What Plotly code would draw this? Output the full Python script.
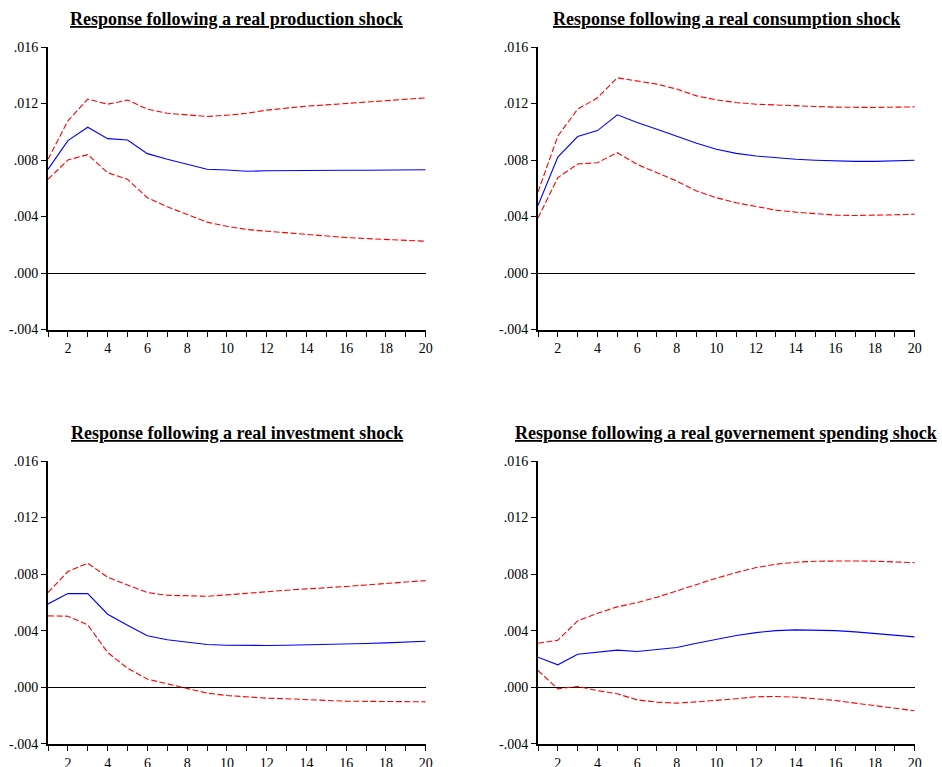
import plotly.graph_objects as go

periods = list(range(1, 21))

titles = [
    "Response following a real production shock",
    "Response following a real consumption shock",
    "Response following a real investment shock",
    "Response following a real governement spending shock",
]

prod_mid = [0.00734, 0.00937, 0.01032, 0.00951, 0.00942, 0.00845, 0.00805, 0.00769, 0.00734, 0.00729,
            0.00720, 0.00724, 0.00726, 0.00727, 0.00727, 0.00727, 0.00727, 0.00728, 0.00729, 0.00731]
prod_up = [0.00805, 0.01077, 0.01231, 0.01195, 0.01224, 0.01160, 0.01131, 0.01117, 0.01108, 0.01117,
           0.01131, 0.01153, 0.01169, 0.01181, 0.01190, 0.01200, 0.01210, 0.01219, 0.01231, 0.01240]
prod_lo = [0.00663, 0.00800, 0.00838, 0.00710, 0.00663, 0.00533, 0.00469, 0.00414, 0.00360, 0.00331,
           0.00308, 0.00296, 0.00284, 0.00272, 0.00260, 0.00251, 0.00244, 0.00237, 0.00232, 0.00225]

cons_mid = [0.00478, 0.00821, 0.00966, 0.01008, 0.01120, 0.01065, 0.01018, 0.00970, 0.00918, 0.00876,
            0.00847, 0.00828, 0.00814, 0.00805, 0.00798, 0.00793, 0.00790, 0.00790, 0.00793, 0.00798]
cons_up = [0.00573, 0.00970, 0.01160, 0.01240, 0.01382, 0.01361, 0.01337, 0.01302, 0.01254, 0.01226,
           0.01207, 0.01195, 0.01188, 0.01183, 0.01179, 0.01174, 0.01172, 0.01172, 0.01174, 0.01176]
cons_lo = [0.00390, 0.00675, 0.00772, 0.00781, 0.00852, 0.00769, 0.00710, 0.00651, 0.00580, 0.00533,
           0.00497, 0.00469, 0.00445, 0.00431, 0.00419, 0.00410, 0.00407, 0.00407, 0.00412, 0.00417]

inv_mid = [0.00589, 0.00662, 0.00662, 0.00516, 0.00438, 0.00363, 0.00335, 0.00316, 0.00302, 0.00297,
           0.00295, 0.00295, 0.00297, 0.00299, 0.00302, 0.00304, 0.00309, 0.00313, 0.00318, 0.00325]
inv_up = [0.00669, 0.00818, 0.00877, 0.00778, 0.00723, 0.00669, 0.00650, 0.00646, 0.00643, 0.00653,
          0.00665, 0.00674, 0.00686, 0.00695, 0.00702, 0.00712, 0.00723, 0.00733, 0.00745, 0.00754]
inv_lo = [0.00504, 0.00502, 0.00441, 0.00245, 0.00134, 0.00057, 0.00024, -0.00007, -0.00042, -0.00059,
          -0.00071, -0.00078, -0.00082, -0.00090, -0.00094, -0.00099, -0.00101, -0.00101, -0.00101, -0.00104]

gov_mid = [0.00212, 0.00158, 0.00233, 0.00247, 0.00262, 0.00252, 0.00266, 0.00280, 0.00311, 0.00339,
           0.00365, 0.00386, 0.00400, 0.00405, 0.00405, 0.00400, 0.00391, 0.00379, 0.00368, 0.00356]
gov_up = [0.00311, 0.00332, 0.00469, 0.00523, 0.00568, 0.00598, 0.00636, 0.00681, 0.00728, 0.00771,
          0.00811, 0.00846, 0.00870, 0.00884, 0.00891, 0.00893, 0.00893, 0.00891, 0.00886, 0.00881]
gov_lo = [0.00118, -0.00012, 0.00005, -0.00024, -0.00047, -0.00090, -0.00106, -0.00113, -0.00104, -0.00094,
          -0.00082, -0.00068, -0.00066, -0.00071, -0.00080, -0.00094, -0.00113, -0.00130, -0.00148, -0.00167]

ytick_vals = [-0.004, 0.0, 0.004, 0.008, 0.012, 0.016]
ytick_text = ["-.004", ".000", ".004", ".008", ".012", ".016"]
xtick_text = [str(p) if p % 2 == 0 else "" for p in periods]

panels = [
    (prod_mid, prod_up, prod_lo),
    (cons_mid, cons_up, cons_lo),
    (inv_mid, inv_up, inv_lo),
    (gov_mid, gov_up, gov_lo),
]

W, H = 942, 767
xdoms = [(48 / W, 425.7 / W), (538 / W, 914.7 / W)]
ydoms = [(1 - 329.5 / H, 1 - 47 / H), (1 - 743.7 / H, 1 - 461 / H)]
title_y = [1 - 19 / H, 1 - 433 / H]

FONT = "Liberation Serif, Times New Roman, serif"
DASH = "6px,2.5px"

fig = go.Figure()
annotations = []
for i, (mid, up, lo) in enumerate(panels):
    r, c = divmod(i, 2)
    n = i + 1
    xa = "x" if n == 1 else f"x{n}"
    ya = "y" if n == 1 else f"y{n}"
    fig.add_trace(go.Scatter(x=periods, y=up, mode="lines", xaxis=xa, yaxis=ya,
                             line=dict(color="#ff0000", width=1.1, dash=DASH), showlegend=False))
    fig.add_trace(go.Scatter(x=periods, y=lo, mode="lines", xaxis=xa, yaxis=ya,
                             line=dict(color="#ff0000", width=1.1, dash=DASH), showlegend=False))
    fig.add_trace(go.Scatter(x=periods, y=mid, mode="lines", xaxis=xa, yaxis=ya,
                             line=dict(color="#0000ff", width=1.1), showlegend=False))
    xkey = "xaxis" if n == 1 else f"xaxis{n}"
    ykey = "yaxis" if n == 1 else f"yaxis{n}"
    fig.update_layout(**{
        xkey: dict(domain=list(xdoms[c]), anchor=ya, range=[1, 20], automargin=False,
                   tickmode="array", tickvals=periods, ticktext=xtick_text,
                   ticks="outside", ticklen=5, tickwidth=1, tickcolor="black",
                   showline=True, linewidth=2, linecolor="black",
                   showgrid=False, zeroline=False,
                   tickfont=dict(family=FONT, size=14, color="black")),
        ykey: dict(domain=list(ydoms[r]), anchor=xa, range=[-0.004, 0.016], automargin=False,
                   tickmode="array", tickvals=ytick_vals, ticktext=ytick_text,
                   ticks="outside", ticklen=5, tickwidth=1, tickcolor="black",
                   showline=True, linewidth=2, linecolor="black",
                   showgrid=False, zeroline=True, zerolinecolor="black", zerolinewidth=1,
                   tickfont=dict(family=FONT, size=14, color="black")),
    })
    annotations.append(dict(text=f"<b><u>{titles[i]}</u></b>", x=(xdoms[c][0] + xdoms[c][1]) / 2,
                            y=title_y[r], xref="paper", yref="paper", showarrow=False,
                            xanchor="center", yanchor="middle",
                            font=dict(family=FONT, size=18, color="black")))

fig.update_layout(width=W, height=H, margin=dict(l=0, r=0, t=0, b=0, autoexpand=False),
                  paper_bgcolor="white", plot_bgcolor="white", annotations=annotations)

fig.write_html("out.html", config={"displayModeBar": False},
               post_script="document.body.style.margin='0';document.body.style.padding='0';"
                           "document.body.style.overflow='hidden';")
